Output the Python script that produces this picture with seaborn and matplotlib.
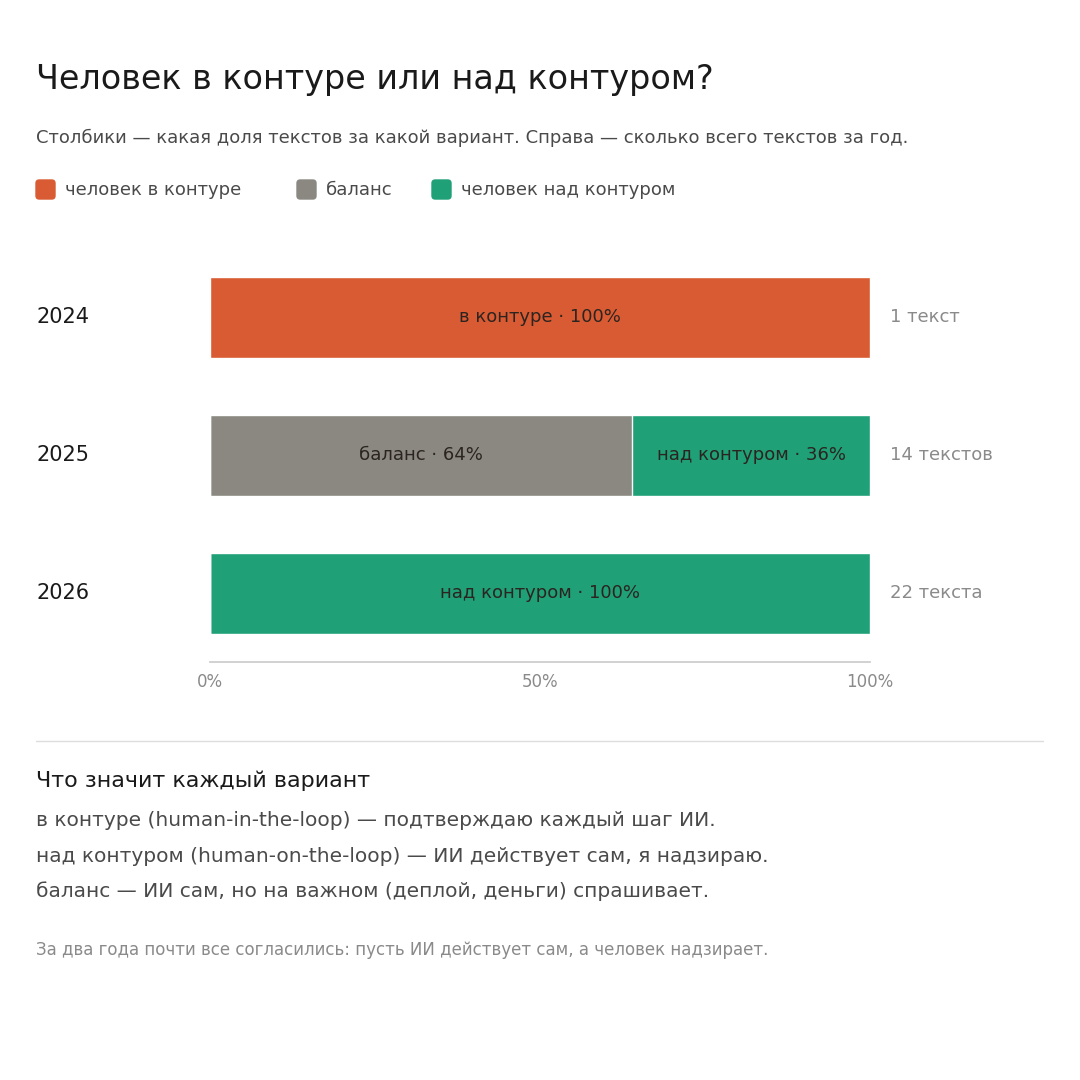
import matplotlib
matplotlib.use("Agg")
import matplotlib.pyplot as plt
import seaborn as sns
import pandas as pd
from matplotlib.patches import FancyBboxPatch

years = ["2024", "2025", "2026"]
share_in = [100, 0, 0]
share_balance = [0, 64, 0]
share_over = [0, 36, 100]
totals = ["1 текст", "14 текстов", "22 текста"]
tick_labels = ["0%", "50%", "100%"]

c_in, c_bal, c_over = "#D95B33", "#8A8880", "#1FA077"

sns.set_theme(style="white")
plt.rcParams['font.family'] = ['DejaVu Sans']

df = pd.DataFrame({"year": years, "inl": share_in, "bal": share_balance, "over": share_over})
df["c1"] = df.inl
df["c2"] = df.inl + df.bal
df["c3"] = df.c2 + df.over

fig = plt.figure(figsize=(10.8, 10.8), dpi=100)
ax = fig.add_axes([210 / 1080, 1 - 662 / 1080, 660 / 1080, 414 / 1080])
w = 81 / 138
sns.barplot(data=df, x="c3", y="year", color=c_over, orient="h", width=w, ax=ax, saturation=1)
sns.barplot(data=df, x="c2", y="year", color=c_bal, orient="h", width=w, ax=ax, saturation=1)
sns.barplot(data=df, x="c1", y="year", color=c_in, orient="h", width=w, ax=ax, saturation=1)
ax.set_xlim(0, 100)
ax.set_ylim(2.5, -0.5)
ax.set_xlabel(""); ax.set_ylabel("")
ax.set_yticks([])
ax.set_xticks([0, 50, 100])
ax.set_xticklabels(tick_labels, color="#8a8a8a", fontsize=12)
ax.tick_params(axis="x", length=0, pad=8)
for s in ["top", "right", "left"]:
    ax.spines[s].set_visible(False)
ax.spines["bottom"].set_color("#cccccc")

names = {"inl": "в контуре", "bal": "баланс", "over": "над контуром"}
for i, row in df.iterrows():
    left = 0
    for key in ["inl", "bal", "over"]:
        v = row[key]
        if v > 0:
            ax.text(left + v / 2, i, f"{names[key]} · {v}%", ha="center", va="center",
                    fontsize=13, color="#2b2420")
        left += v
    ax.text(103, i, totals[i], ha="left", va="center", fontsize=13, color="#8a8a8a",
            transform=ax.transData, clip_on=False)
    fig.text(36 / 1080, 1 - (317 + 138 * i) / 1080, years[i], ha="left", va="center",
             fontsize=15, color="#1a1a1a")

def px(x, y):
    return x / 1080, 1 - y / 1080

fig.text(*px(36, 80), "Человек в контуре или над контуром?", fontsize=24, color="#1a1a1a", va="center")
fig.text(*px(36, 138), "Столбики — какая доля текстов за какой вариант. Справа — сколько всего текстов за год.",
         fontsize=13, color="#4a4a4a", va="center")
for x, col, lab in [(36, c_in, "человек в контуре"), (297, c_bal, "баланс"), (432, c_over, "человек над контуром")]:
    fig.patches.append(FancyBboxPatch(px(x, 199), 19 / 1080, 19 / 1080,
                                      boxstyle="round,pad=0,rounding_size=0.003",
                                      transform=fig.transFigure, color=col))
    fig.text(*px(x + 29, 190), lab, fontsize=13, color="#4a4a4a", va="center")

fig.add_artist(plt.Line2D([36 / 1080, 1043 / 1080], [1 - 741 / 1080] * 2, color="#dddddd", lw=1))
fig.text(*px(36, 781), "Что значит каждый вариант", fontsize=16, color="#1a1a1a", va="center")
body = ["в контуре (human-in-the-loop) — подтверждаю каждый шаг ИИ.",
        "над контуром (human-on-the-loop) — ИИ действует сам, я надзираю.",
        "баланс — ИИ сам, но на важном (деплой, деньги) спрашивает."]
for k, line in enumerate(body):
    fig.text(*px(36, 821 + 35 * k), line, fontsize=14.5, color="#4a4a4a", va="center")
fig.text(*px(36, 950), "За два года почти все согласились: пусть ИИ действует сам, а человек надзирает.",
         fontsize=12, color="#8a8a8a", va="center")

fig.savefig("out.png", dpi=100, facecolor="white")
